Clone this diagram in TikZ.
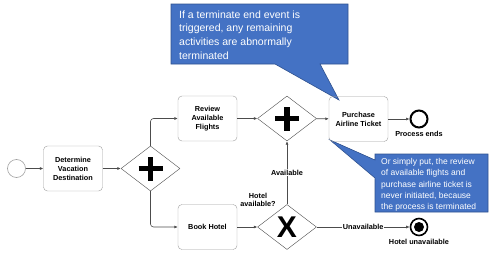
\documentclass[tikz,border=0pt]{standalone}
\usepackage{fontspec}
\setmainfont{Liberation Sans}
\usetikzlibrary{arrows.meta,shapes.geometric,positioning}
\definecolor{calloutblue}{RGB}{68,114,196}
\definecolor{calloutedge}{RGB}{47,82,143}
\tikzset{
  task/.style={draw=gray!75, rounded corners=4pt, minimum width=59pt, minimum height=45pt,
    align=center, inner sep=1pt, font=\fontsize{7.3}{9}\selectfont\bfseries},
  gw/.style={diamond, draw=gray!60!black, minimum width=59pt, minimum height=45pt, inner sep=0pt},
  flow/.style={-{Latex[length=3.5pt,width=3pt]}, draw=gray!60!black, line width=0.6pt},
  lbl/.style={font=\fontsize{7.3}{8.5}\selectfont\bfseries, align=center, inner sep=1pt},
  callout/.style={fill=calloutblue, draw=calloutedge, line width=0.6pt},
  notetext/.style={text=white, align=left, anchor=west, inner sep=0pt}
}
\begin{document}
\begin{tikzpicture}[x=1pt,y=-1pt]
\useasboundingbox (0,0) rectangle (499,257);
% Callouts
\draw[callout] (171,4) -- (348,4) -- (348,64) -- (320,64) -- (339,100) -- (275,64) -- (171,64) -- cycle;
\node[notetext, font=\fontsize{10.5}{13.7}\selectfont] (note1) at (179,35)
  {If a terminate end event is\\triggered, any remaining\\activities are abnormally\\terminated};
\draw[callout] (375,154) -- (488,154) -- (488,212) -- (375,212) -- (375,178) -- (330,140) -- (375,160) -- cycle;
\node[notetext, font=\fontsize{8.5}{11.3}\selectfont] (note2) at (381,185)
  {Or simply put, the review\\of available flights and\\purchase airline ticket is\\never initiated, because\\the process is terminated};
% Events
\node[circle, draw=gray!75, line width=0.6pt, minimum size=18pt, inner sep=0pt] (start) at (16.5,168.5) {};
\node[circle, draw=black, line width=2pt, minimum size=17pt, inner sep=0pt] (endok) at (419,119) {};
\node[circle, draw=black, line width=1.6pt, minimum size=17pt, inner sep=0pt] (endterm) at (419,227) {};
\fill (endterm.center) circle (5pt);
% Tasks
\node[task] (determine) at (73,168.5) {Determine\\Vacation\\Destination};
\node[task] (review) at (207.5,118.5) {Review\\Available\\Flights};
\node[task] (book) at (207.5,227) {Book Hotel};
\node[task] (purchase) at (358.5,119) {Purchase\\Airline Ticket};
% Gateways
\node[gw] (fork) at (150.5,168.5) {};
\node[gw] (join) at (287,118.5) {};
\node[gw] (hotelgw) at (287,227) {};
\foreach \g in {fork,join} {
  \draw[line width=5.5pt] ([xshift=-12pt]\g.center) -- ([xshift=12pt]\g.center);
  \draw[line width=5.5pt] ([yshift=-12pt]\g.center) -- ([yshift=12pt]\g.center);
}
\node[font=\fontsize{30}{30}\selectfont\bfseries, inner sep=0pt] at (hotelgw.center) {X};
% Flows
\draw[flow] (start) -- (determine);
\draw[flow] (determine) -- (fork);
\draw[flow, rounded corners=3pt] (fork.north) |- (review);
\draw[flow, rounded corners=3pt] (fork.south) |- (book);
\draw[flow] (review) -- (join);
\draw[flow] (join) -- (purchase);
\draw[flow] (purchase) -- (endok);
\draw[flow] (book) -- (hotelgw);
\draw[flow] (hotelgw.north) -- node[lbl, fill=white] {Available} (join.south);
\draw[flow] (hotelgw.east) -- node[lbl, fill=white] {Unavailable} (endterm);
% Labels
\node[lbl] (endoklbl) at (419,134) {Process ends};
\node[lbl] (endtermlbl) at (419,242) {Hotel unavailable};
\node[lbl] (hotelq) at (258,200) {Hotel\\available?};
\end{tikzpicture}
\end{document}
